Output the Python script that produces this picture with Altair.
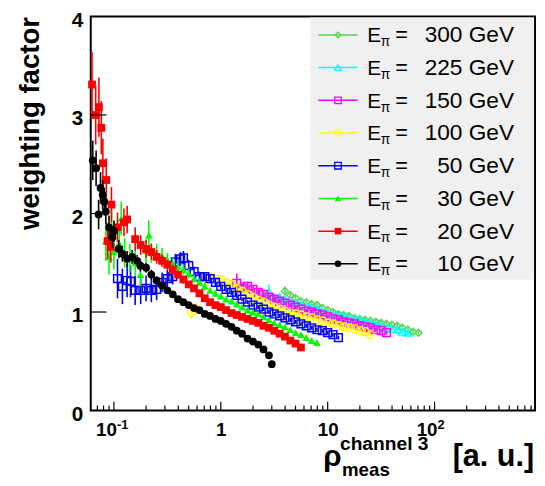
import altair as alt
import pandas as pd

# ---------------- data ----------------
energies = ["300", "225", "150", "100", "50", "30", "20", "10"]
colors = ["#59d454", "#00ffff", "#ff00ff", "#ffff00", "#0000ff", "#00ff00", "#ff0000", "#000000"]
shapes = ["diamond", "triangle-up", "square", "circle", "square", "triangle-up", "square", "circle"]
filled = [False, False, False, False, False, True, True, True]

rho_300 = [3.98, 4.47, 5.01, 5.62, 6.31, 7.08, 7.94, 8.91, 10.0, 11.2,
           12.6, 14.1, 15.8, 17.8, 20.0, 22.4, 25.1, 28.2, 31.6, 35.5,
           39.8, 44.7, 50.1, 56.2, 63.1, 70.8]
w_300 = [1.21, 1.17, 1.14, 1.11, 1.10, 1.08, 1.07, 1.04, 1.02, 1.00,
         0.98, 0.97, 0.96, 0.94, 0.93, 0.92, 0.91, 0.90, 0.89, 0.88,
         0.87, 0.86, 0.84, 0.82, 0.80, 0.79]
err_300 = [0.05, 0.04, 0.03, 0.03, 0.02, 0.02, 0.02, 0.02, 0.02, 0.02,
           0.02, 0.02, 0.02, 0.02, 0.02, 0.02, 0.02, 0.02, 0.02, 0.02,
           0.02, 0.02, 0.02, 0.02, 0.02, 0.02]

rho_225 = [2.82, 3.16, 3.55, 3.98, 4.47, 5.01, 5.62, 6.31, 7.08, 7.94,
           8.91, 10.0, 11.2, 12.6, 14.1, 15.8, 17.8, 20.0, 22.4, 25.1,
           28.2, 31.6, 35.5, 39.8, 44.7, 50.1, 56.2]
w_225 = [1.20, 1.14, 1.15, 1.13, 1.11, 1.09, 1.08, 1.06, 1.05, 1.03,
         1.01, 0.99, 0.98, 0.97, 0.95, 0.94, 0.93, 0.92, 0.90, 0.89,
         0.87, 0.86, 0.84, 0.83, 0.82, 0.80, 0.79]
err_225 = [0.08, 0.05, 0.04, 0.03, 0.03, 0.02, 0.02, 0.02, 0.02, 0.02,
           0.02, 0.02, 0.02, 0.02, 0.02, 0.02, 0.02, 0.02, 0.02, 0.02,
           0.02, 0.02, 0.02, 0.02, 0.02, 0.02, 0.02]

rho_150 = [1.41, 1.58, 1.78, 2.00, 2.24, 2.51, 2.82, 3.16, 3.55, 3.98,
           4.47, 5.01, 5.62, 6.31, 7.08, 7.94, 8.91, 10.0, 11.2, 12.6,
           14.1, 15.8, 17.8, 20.0, 22.4, 25.1, 28.2, 31.6, 35.5]
w_150 = [1.29, 1.24, 1.26, 1.23, 1.20, 1.18, 1.15, 1.13, 1.11, 1.09,
         1.07, 1.05, 1.03, 1.01, 1.00, 0.98, 0.97, 0.95, 0.93, 0.92,
         0.90, 0.89, 0.88, 0.86, 0.85, 0.84, 0.82, 0.81, 0.79]
err_150 = [0.10, 0.06, 0.05, 0.04, 0.04, 0.03, 0.03, 0.03, 0.02, 0.02,
           0.02, 0.02, 0.02, 0.02, 0.02, 0.02, 0.02, 0.02, 0.02, 0.02,
           0.02, 0.02, 0.02, 0.02, 0.02, 0.02, 0.02, 0.02, 0.02]

rho_100 = [0.530, 0.580, 0.708, 0.794, 0.891, 1.00, 1.12, 1.26, 1.41, 1.58,
           1.78, 2.00, 2.24, 2.51, 2.82, 3.16, 3.55, 3.98, 4.47, 5.01,
           5.62, 6.31, 7.08, 7.94, 8.91, 10.0, 11.2, 12.6, 14.1, 15.8,
           17.8, 20.0, 22.4, 25.1]
w_100 = [1.00, 1.03, 1.30, 1.36, 1.33, 1.33, 1.30, 1.28, 1.24, 1.21,
         1.18, 1.15, 1.12, 1.10, 1.07, 1.05, 1.03, 1.01, 0.99, 0.98,
         0.97, 0.95, 0.94, 0.92, 0.91, 0.89, 0.88, 0.86, 0.85, 0.84,
         0.83, 0.81, 0.80, 0.77]
err_100 = [0.07, 0.06, 0.06, 0.05, 0.05, 0.04, 0.04, 0.03, 0.03, 0.03,
           0.03, 0.02, 0.02, 0.02, 0.02, 0.02, 0.02, 0.02, 0.02, 0.02,
           0.02, 0.02, 0.02, 0.02, 0.02, 0.02, 0.02, 0.02, 0.02, 0.02,
           0.02, 0.02, 0.02, 0.02]

rho_50 = [0.108, 0.120, 0.133, 0.143, 0.158, 0.178, 0.200, 0.224, 0.251, 0.282,
          0.316, 0.355, 0.376, 0.420, 0.447, 0.501, 0.562, 0.631, 0.708, 0.794,
          0.891, 1.00, 1.12, 1.26, 1.41, 1.58, 1.78, 2.00, 2.24, 2.51,
          2.82, 3.16, 3.55, 3.98, 4.47, 5.01, 5.62, 6.31, 7.08, 7.94,
          8.91, 10.0, 11.2, 12.6]
w_50 = [1.34, 1.26, 1.32, 1.31, 1.22, 1.22, 1.24, 1.22, 1.23, 1.30,
        1.34, 1.36, 1.51, 1.54, 1.55, 1.47, 1.41, 1.36, 1.36, 1.34,
        1.30, 1.26, 1.23, 1.20, 1.17, 1.13, 1.10, 1.07, 1.05, 1.03,
        1.00, 0.98, 0.96, 0.94, 0.92, 0.90, 0.88, 0.86, 0.84, 0.82,
        0.81, 0.79, 0.77, 0.74]
err_50 = [0.20, 0.18, 0.17, 0.16, 0.15, 0.14, 0.13, 0.12, 0.11, 0.10,
          0.09, 0.08, 0.08, 0.07, 0.07, 0.06, 0.05, 0.05, 0.04, 0.04,
          0.04, 0.03, 0.03, 0.03, 0.03, 0.02, 0.02, 0.02, 0.02, 0.02,
          0.02, 0.02, 0.02, 0.02, 0.02, 0.02, 0.02, 0.02, 0.02, 0.02,
          0.02, 0.02, 0.02, 0.02]

rho_30 = [0.084, 0.090, 0.095, 0.100, 0.112, 0.117, 0.126, 0.141, 0.158, 0.177,
          0.200, 0.212, 0.224, 0.251, 0.282, 0.316, 0.355, 0.398, 0.447, 0.501,
          0.562, 0.631, 0.708, 0.794, 0.891, 1.00, 1.12, 1.26, 1.41, 1.58,
          1.78, 2.00, 2.24, 2.51, 2.82, 3.16, 3.55, 3.98, 4.47, 5.01,
          5.62, 6.31, 7.08, 7.94]
w_30 = [1.72, 1.56, 1.84, 1.61, 1.70, 1.95, 1.60, 1.55, 1.50, 1.38,
        1.62, 1.78, 1.60, 1.60, 1.57, 1.53, 1.49, 1.46, 1.43, 1.39,
        1.34, 1.30, 1.26, 1.22, 1.19, 1.16, 1.13, 1.11, 1.08, 1.05,
        1.02, 1.00, 0.98, 0.95, 0.92, 0.89, 0.87, 0.85, 0.82, 0.79,
        0.77, 0.74, 0.71, 0.69]
err_30 = [0.20, 0.18, 0.20, 0.18, 0.16, 0.17, 0.15, 0.14, 0.13, 0.12,
          0.12, 0.15, 0.10, 0.09, 0.08, 0.07, 0.06, 0.06, 0.05, 0.05,
          0.04, 0.04, 0.04, 0.03, 0.03, 0.03, 0.03, 0.02, 0.02, 0.02,
          0.02, 0.02, 0.02, 0.02, 0.02, 0.02, 0.02, 0.02, 0.02, 0.02,
          0.02, 0.02, 0.02, 0.02]

rho_20 = [0.0624, 0.0675, 0.0724, 0.0762, 0.0788, 0.0848, 0.0871, 0.0934, 0.0948, 0.108,
          0.124, 0.133, 0.158, 0.178, 0.200, 0.224, 0.251, 0.282, 0.316, 0.355,
          0.398, 0.447, 0.501, 0.562, 0.631, 0.708, 0.794, 0.891, 1.00, 1.12,
          1.26, 1.41, 1.58, 1.78, 2.00, 2.24, 2.51, 2.82, 3.16, 3.55,
          3.98, 4.47, 5.01, 5.62]
w_20 = [3.31, 3.00, 3.08, 2.87, 2.51, 2.34, 1.72, 1.66, 2.09, 1.86,
        1.91, 1.94, 1.74, 1.68, 1.64, 1.61, 1.56, 1.52, 1.48, 1.43,
        1.38, 1.33, 1.28, 1.24, 1.19, 1.14, 1.10, 1.07, 1.05, 1.02,
        0.99, 0.97, 0.95, 0.93, 0.91, 0.89, 0.86, 0.84, 0.81, 0.78,
        0.75, 0.71, 0.68, 0.64]
err_20 = [0.33, 0.30, 0.30, 0.27, 0.25, 0.22, 0.18, 0.16, 0.18, 0.15,
          0.14, 0.14, 0.12, 0.10, 0.09, 0.08, 0.07, 0.06, 0.05, 0.05,
          0.04, 0.04, 0.03, 0.03, 0.03, 0.03, 0.02, 0.02, 0.02, 0.02,
          0.02, 0.02, 0.02, 0.02, 0.02, 0.02, 0.02, 0.02, 0.02, 0.02,
          0.02, 0.02, 0.02, 0.02]

rho_10 = [0.0634, 0.0681, 0.0719, 0.0749, 0.0784, 0.0813, 0.0841, 0.090, 0.097, 0.100,
          0.111, 0.120, 0.133, 0.148, 0.165, 0.177, 0.200, 0.224, 0.251, 0.282,
          0.316, 0.355, 0.398, 0.447, 0.501, 0.562, 0.631, 0.708, 0.794, 0.891,
          1.00, 1.12, 1.26, 1.41, 1.58, 1.78, 2.00, 2.24, 2.51, 2.82,
          3.00]
w_10 = [2.54, 2.46, 1.99, 2.26, 2.19, 2.12, 2.02, 1.86, 1.76, 1.82,
        1.64, 1.59, 1.54, 1.56, 1.52, 1.47, 1.45, 1.38, 1.32, 1.27,
        1.22, 1.18, 1.13, 1.10, 1.07, 1.04, 1.02, 0.98, 0.96, 0.93,
        0.91, 0.88, 0.85, 0.81, 0.78, 0.73, 0.70, 0.67, 0.62, 0.56,
        0.47]
err_10 = [0.20, 0.18, 0.15, 0.16, 0.15, 0.14, 0.13, 0.12, 0.11, 0.11,
          0.09, 0.08, 0.08, 0.07, 0.06, 0.06, 0.05, 0.05, 0.04, 0.04,
          0.03, 0.03, 0.03, 0.03, 0.02, 0.02, 0.02, 0.02, 0.02, 0.02,
          0.02, 0.02, 0.02, 0.02, 0.02, 0.02, 0.02, 0.02, 0.02, 0.02,
          0.02]

series = {
    "300": (rho_300, w_300, err_300),
    "225": (rho_225, w_225, err_225),
    "150": (rho_150, w_150, err_150),
    "100": (rho_100, w_100, err_100),
    "50": (rho_50, w_50, err_50),
    "30": (rho_30, w_30, err_30),
    "20": (rho_20, w_20, err_20),
    "10": (rho_10, w_10, err_10),
}

y_ticks = [1, 2, 3]
y_labels = [0, 1, 2, 3, 4]
xtick_major = [0.1, 1, 10, 100]
xtick_minor = [0.07, 0.08, 0.09, 0.2, 0.3, 0.4, 0.5, 0.6, 0.7, 0.8, 0.9,
               2, 3, 4, 5, 6, 7, 8, 9, 20, 30, 40, 50, 60, 70, 80, 90,
               200, 300, 400, 500, 600, 700, 800]
xlabel_plain_v = [1, 10]
xlabel_plain_t = ["1", "10"]
xlabel_pow_v = [0.1, 100]
xlabel_pow_base = ["10", "10"]
xlabel_pow_exp = ["-1", "2"]

# ---------------- chart ----------------
W, H = 451, 400
FONT = "Liberation Sans"
xscale = alt.Scale(type="log", domain=[0.0607, 871], nice=False)
yscale = alt.Scale(domain=[0, 4], nice=False, zero=False)
yaxis = alt.Axis(
    values=y_labels, format="d", ticks=False, domain=False, grid=False,
    labelFont=FONT, labelFontSize=21, labelFontWeight="bold", labelColor="black",
    labelPadding=8, labelOffset=4,
    title="weighting factor", titleFont=FONT, titleFontSize=28, titleFontWeight="bold",
    titleColor="black", titleAngle=270, titleAlign="right", titleBaseline="alphabetic",
    titleX=-53, titleY=0,
)


def X(f):
    return alt.X(f, type="quantitative", scale=xscale, axis=None)


def Y(f):
    return alt.Y(f, type="quantitative", scale=yscale, axis=yaxis)


one = pd.DataFrame({"k": [0]})
layers = []

for e, col, shp, fil in zip(energies, colors, shapes, filled):
    rho, w, err = series[e]
    df = pd.DataFrame({
        "rho": rho, "w": w,
        "lo": [a - b for a, b in zip(w, err)],
        "hi": [a + b for a, b in zip(w, err)],
    })
    layers.append(alt.Chart(df).mark_rule(color=col, strokeWidth=1.6).encode(
        x=X("rho"), y=Y("lo"), y2="hi"))
    layers.append(alt.Chart(df).mark_point(
        shape=shp, filled=fil, color=col, size=62 if shp != "diamond" else 50,
        strokeWidth=1.5, opacity=1).encode(x=X("rho"), y=Y("w")))

# inner ticks
layers.append(alt.Chart(pd.DataFrame({"v": xtick_major})).mark_rule(color="black", strokeWidth=1.2).encode(
    x=X("v"), y=alt.value(H), y2=alt.value(H - 9)))
layers.append(alt.Chart(pd.DataFrame({"v": xtick_minor})).mark_rule(color="black", strokeWidth=1.2).encode(
    x=X("v"), y=alt.value(H), y2=alt.value(H - 5)))
layers.append(alt.Chart(pd.DataFrame({"v": y_ticks})).mark_rule(color="black", strokeWidth=1.2).encode(
    x=alt.value(0), x2=alt.value(16), y=Y("v")))

# x tick labels
lab_y = 426.3
layers.append(alt.Chart(pd.DataFrame({"v": xlabel_plain_v, "t": xlabel_plain_t})).mark_text(
    align="center", baseline="alphabetic", font=FONT, fontSize=19, fontWeight="bold",
    color="black", dx=0.5).encode(x=X("v"), y=alt.value(lab_y), text="t:N"))
layers.append(alt.Chart(pd.DataFrame({"v": xlabel_pow_v, "t": xlabel_pow_base})).mark_text(
    align="right", baseline="alphabetic", font=FONT, fontSize=19, fontWeight="bold",
    color="black", dx=3).encode(x=X("v"), y=alt.value(lab_y), text="t:N"))
layers.append(alt.Chart(pd.DataFrame({"v": xlabel_pow_v, "t": xlabel_pow_exp})).mark_text(
    align="left", baseline="alphabetic", font=FONT, fontSize=13, fontWeight="bold",
    color="black", dx=3).encode(x=X("v"), y=alt.value(418.5), text="t:N"))


def ptext(text, x, y, size, align="left", weight="bold"):
    return alt.Chart(one).mark_text(
        text=text, align=align, baseline="alphabetic", font=FONT, fontSize=size,
        fontWeight=weight, color="black").encode(x=alt.value(x), y=alt.value(y))


# x title
layers.append(ptext("ρ", 236, 456, 30))
layers.append(ptext("channel 3", 253, 440.5, 19.5))
layers.append(ptext("meas", 255, 466.5, 19))
layers.append(ptext("[a. u.]", 450, 456, 31, align="right"))

# legend
layers.append(alt.Chart(one).mark_rect(color="#f0f0f0").encode(
    x=alt.value(223), x2=alt.value(450), y=alt.value(1), y2=alt.value(267)))
for i, (e, col, shp, fil) in enumerate(zip(energies, colors, shapes, filled)):
    yc = 18.7 + 33.2 * i
    layers.append(alt.Chart(one).mark_rule(color=col, strokeWidth=1.5).encode(
        x=alt.value(231), x2=alt.value(271), y=alt.value(yc)))
    layers.append(alt.Chart(one).mark_point(
        shape=shp, filled=fil, color=col, size=44 if shp != "diamond" else 34,
        strokeWidth=1.3, opacity=1).encode(x=alt.value(251), y=alt.value(yc)))
    layers.append(ptext("E", 280.7, yc + 7.5, 21, weight="normal"))
    layers.append(ptext("π", 294.5, yc + 11.5, 14, weight="normal"))
    layers.append(ptext("=", 309, yc + 7.5, 22, weight="normal"))
    layers.append(ptext(f"{e} GeV", 429.7, yc + 7.5, 23, align="right", weight="normal"))

chart = alt.layer(*layers).properties(
    width=W, height=H,
    autosize=alt.AutoSizeParams(type="none"),
    padding={"left": 84, "top": 5, "right": 2, "bottom": 73},
    background="white",
).configure_view(stroke="black", strokeWidth=2)

chart.save("out.html", embed_options={"renderer": "svg", "actions": False})
